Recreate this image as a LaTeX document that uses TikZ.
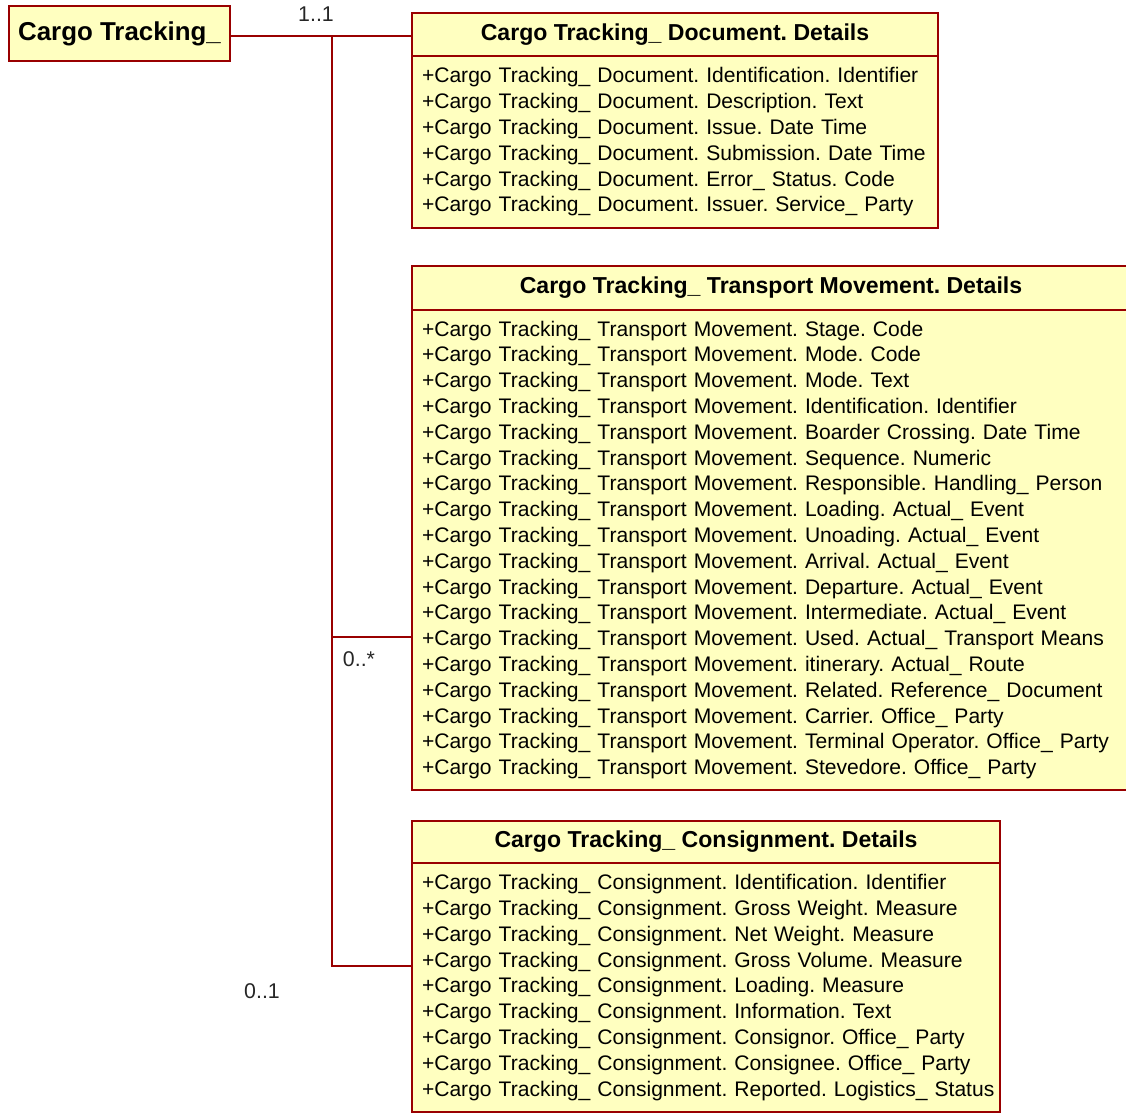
\documentclass[tikz,border=0pt]{standalone}
\usepackage{fontspec}
\setmainfont{Liberation Sans}
\usetikzlibrary{positioning,calc}
\definecolor{umlred}{RGB}{153,0,0}
\definecolor{umlfill}{RGB}{255,255,192}
\frenchspacing
\newcommand{\attr}[2]{\mbox{+Cargo Tracking\_ #1. #2}}
\tikzset{
  rootbox/.style={draw=umlred, fill=umlfill, line width=1.5pt, minimum width=165.75pt,
                  minimum height=41.25pt, inner sep=0pt, font=\fontsize{19.4}{23}\selectfont\bfseries},
  classhead/.style={draw=umlred, fill=umlfill, line width=1.5pt, inner sep=0pt, outer sep=0pt,
                    anchor=north west, font=\fontsize{17.3}{20}\selectfont\bfseries},
  classbody/.style={draw=umlred, fill=umlfill, line width=1.5pt, inner xsep=7.5pt, inner ysep=0pt,
                    outer sep=0pt, anchor=north west, align=left, font=\fontsize{15.8}{19.35}\selectfont},
  assoc/.style={draw=umlred, line width=1.5pt},
  mult/.style={font=\fontsize{16}{19}\selectfont, text=black!85},
}
\begin{document}
\begin{tikzpicture}[x=0.75pt, y=-0.75pt]
  \useasboundingbox (0,0) rectangle (1126,1113);

  \node[rootbox, anchor=north west] (root) at (8,5) {Cargo Tracking\_};

  % document class
  \node[classhead, minimum width=394.5pt, minimum height=32.25pt] (docHead) at (412,13)
    {Cargo Tracking\_ Document. Details};
  \node[classbody, text width=379.5pt, minimum height=129pt] (docBody) at (docHead.south west) {%
    \attr{Document}{Identification. Identifier}\\
    \attr{Document}{Description. Text}\\
    \attr{Document}{Issue. Date Time}\\
    \attr{Document}{Submission. Date Time}\\
    \attr{Document}{Error\_ Status. Code}\\
    \attr{Document}{Issuer. Service\_ Party}};

  % transport movement class
  \node[classhead, minimum width=538.5pt, minimum height=33pt] (tmHead) at (412,266)
    {Cargo Tracking\_ Transport Movement. Details};
  \node[classbody, text width=523.5pt, minimum height=360pt] (tmBody) at (tmHead.south west) {%
    \attr{Transport Movement}{Stage. Code}\\
    \attr{Transport Movement}{Mode. Code}\\
    \attr{Transport Movement}{Mode. Text}\\
    \attr{Transport Movement}{Identification. Identifier}\\
    \attr{Transport Movement}{Boarder Crossing. Date Time}\\
    \attr{Transport Movement}{Sequence. Numeric}\\
    \attr{Transport Movement}{Responsible. Handling\_ Person}\\
    \attr{Transport Movement}{Loading. Actual\_ Event}\\
    \attr{Transport Movement}{Unoading. Actual\_ Event}\\
    \attr{Transport Movement}{Arrival. Actual\_ Event}\\
    \attr{Transport Movement}{Departure. Actual\_ Event}\\
    \attr{Transport Movement}{Intermediate. Actual\_ Event}\\
    \attr{Transport Movement}{Used. Actual\_ Transport Means}\\
    \attr{Transport Movement}{itinerary. Actual\_ Route}\\
    \attr{Transport Movement}{Related. Reference\_ Document}\\
    \attr{Transport Movement}{Carrier. Office\_ Party}\\
    \attr{Transport Movement}{Terminal Operator. Office\_ Party}\\
    \attr{Transport Movement}{Stevedore. Office\_ Party}};

  % consignment class
  \node[classhead, minimum width=441pt, minimum height=31.5pt] (csHead) at (412,821)
    {Cargo Tracking\_ Consignment. Details};
  \node[classbody, text width=426pt, minimum height=186.75pt] (csBody) at (csHead.south west) {%
    \attr{Consignment}{Identification. Identifier}\\
    \attr{Consignment}{Gross Weight. Measure}\\
    \attr{Consignment}{Net Weight. Measure}\\
    \attr{Consignment}{Gross Volume. Measure}\\
    \attr{Consignment}{Loading. Measure}\\
    \attr{Consignment}{Information. Text}\\
    \attr{Consignment}{Consignor. Office\_ Party}\\
    \attr{Consignment}{Consignee. Office\_ Party}\\
    \attr{Consignment}{Reported. Logistics\_ Status}};

  % associations
  \coordinate (trunk) at (332,36);
  \draw[assoc] (root.east |- trunk) -- (docHead.west |- trunk);
  \draw[assoc] (trunk) |- ($(tmBody.north west)!0.681!(tmBody.south west)$);
  \draw[assoc] (trunk) |- ($(csBody.north west)!0.414!(csBody.south west)$);

  \node[mult] (multDoc) at (316,14) {1..1};
  \node[mult] (multTm) at (359,659) {0..*};
  \node[mult] (multCs) at (262,991) {0..1};
\end{tikzpicture}
\end{document}
